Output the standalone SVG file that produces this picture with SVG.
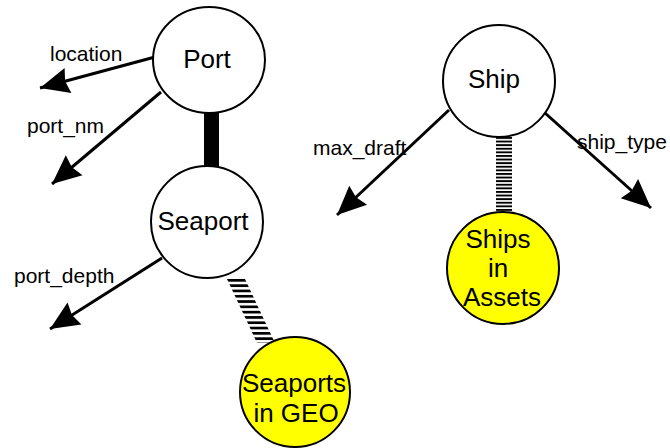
<svg xmlns="http://www.w3.org/2000/svg" width="670" height="448" viewBox="0 0 670 448">
<style>
.node{fill:#fff;stroke:#000;stroke-width:2}
.src{fill:#ffff00;stroke:#000;stroke-width:2}
.nl{font-family:"Liberation Sans",Arial,sans-serif;font-size:26px;fill:#000;text-anchor:middle}
.el{font-family:"Liberation Sans",Arial,sans-serif;font-size:21px;fill:#000}
.attr{stroke:#000;stroke-width:3;fill:none;marker-end:url(#ah)}
</style>
<defs>
<marker id="ah" markerUnits="userSpaceOnUse" markerWidth="32" markerHeight="30" viewBox="-30 -14 32 28" refX="0" refY="0" orient="auto">
<path d="M0,0 L-29,-13 L-26,0 L-29,13 Z" fill="#000"/>
</marker>
<pattern id="hs" patternUnits="userSpaceOnUse" x="0" y="279" width="20" height="5.3">
<rect x="0" y="0" width="20" height="2.7" fill="#000"/>
</pattern>
<pattern id="hv" patternUnits="userSpaceOnUse" x="0" y="137" width="20" height="3.6">
<rect x="0" y="0" width="20" height="1.9" fill="#000"/>
</pattern>
</defs>
<g id="connectors">
<line class="attr" x1="155" y1="57" x2="40" y2="88"/>
<line class="attr" x1="161" y1="92" x2="52" y2="184"/>
<line class="attr" x1="162" y1="258" x2="50" y2="329"/>
<line class="attr" x1="449" y1="110" x2="337" y2="215"/>
<line class="attr" x1="545" y1="113" x2="651" y2="208"/>
<rect x="204" y="110" width="15" height="62" fill="#000"/>
<polygon points="227,279 245,279 275,343 257,343" fill="url(#hs)"/>
<rect x="496" y="136" width="16" height="77" fill="url(#hv)"/>
</g>
<g id="labels">
<text class="el" x="50" y="61">location</text>
<text class="el" x="27" y="133">port_nm</text>
<text class="el" x="14" y="283">port_depth</text>
<text class="el" x="313" y="155">max_draft</text>
<text class="el" x="577" y="149">ship_type</text>
</g>
<g id="port">
<ellipse class="node" cx="209" cy="60" rx="56" ry="53"/>
<text class="nl" x="207" y="68">Port</text>
</g>
<g id="seaport">
<circle class="node" cx="207" cy="222" r="56"/>
<text class="nl" x="203" y="230">Seaport</text>
</g>
<g id="seaports-in-geo">
<circle class="src" cx="295" cy="392" r="55"/>
<text class="nl" x="294" y="392">Seaports</text>
<text class="nl" x="296" y="422">in GEO</text>
</g>
<g id="ship">
<circle class="node" cx="499" cy="81" r="56"/>
<text class="nl" x="494" y="88">Ship</text>
</g>
<g id="ships-in-assets">
<circle class="src" cx="503" cy="268" r="56"/>
<text class="nl" x="498" y="248">Ships</text>
<text class="nl" x="498" y="277">in</text>
<text class="nl" x="502" y="306">Assets</text>
</g>
</svg>
